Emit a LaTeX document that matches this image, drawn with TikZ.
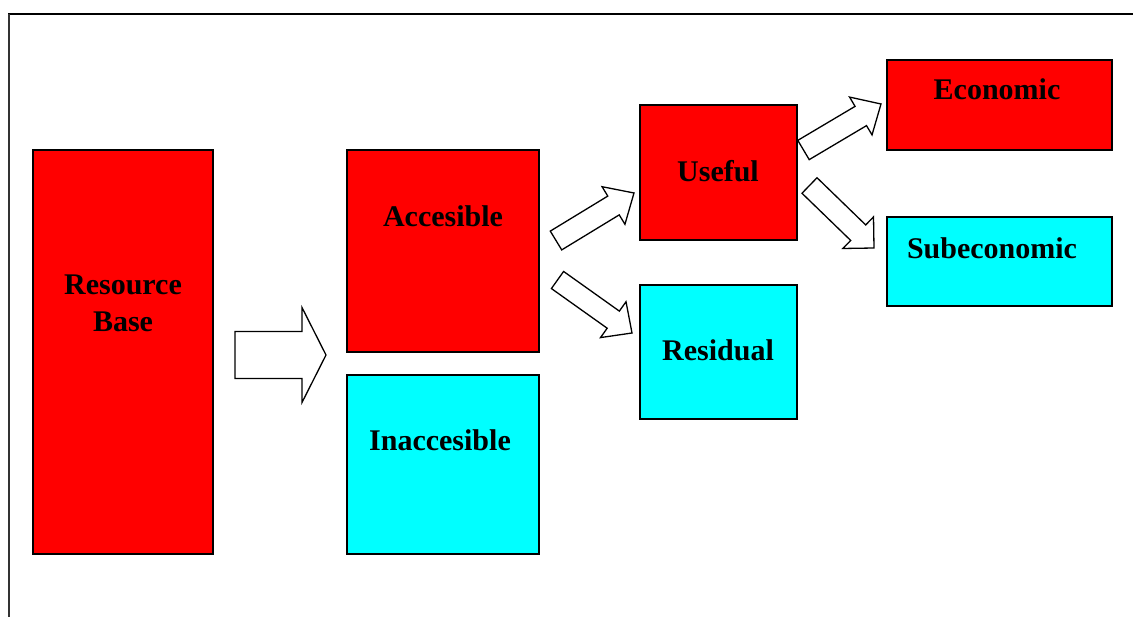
\documentclass[tikz,border=0pt]{standalone}
\usepackage{fontspec}
\setmainfont{Liberation Serif}
\usetikzlibrary{calc}

\definecolor{boxred}{RGB}{255,0,0}
\definecolor{boxcyan}{RGB}{0,255,255}

\tikzset{
  box/.style={draw=black, line width=1.5pt, rectangle, inner sep=0pt},
  redbox/.style={box, fill=boxred},
  cyanbox/.style={box, fill=boxcyan},
  lbl/.style={font=\bfseries\fontsize{30}{37}\selectfont, anchor=base, inner sep=0pt, align=center},
  barrow/.style={draw=black, fill=white, line width=1.3pt, line join=miter},
}

% block arrow: #1 tail centre, #2 tip, #3 half shaft width, #4 half head width, #5 head length (all in pt)
\newcommand{\blockarrow}[5]{%
  \coordinate (hb) at ($(#2)!#5pt!(#1)$);
  \draw[barrow]
    ($(#1)!#3pt!90:(#2)$) -- ($(hb)!#3pt!-90:(#1)$) -- ($(hb)!#4pt!-90:(#1)$) -- (#2)
    -- ($(hb)!#4pt!90:(#1)$) -- ($(hb)!#3pt!90:(#1)$) -- ($(#1)!#3pt!-90:(#2)$) -- cycle;
}

\begin{document}
\begin{tikzpicture}[x=1pt, y=-1pt]
  \useasboundingbox (0,0) rectangle (1133,617);

  % page frame
  \draw[line width=2.4pt] (8,14) -- (1133,14);
  \draw[line width=1.4pt, black!80] (9,14) -- (9,617);

  % boxes
  \node[redbox,  minimum width=180pt, minimum height=404pt] (base)   at (123,352) {};
  \node[redbox,  minimum width=192pt, minimum height=202pt] (acc)    at (443,251) {};
  \node[cyanbox, minimum width=192pt, minimum height=179pt] (inacc)  at (443,464.5) {};
  \node[redbox,  minimum width=157pt, minimum height=135pt] (useful) at (718.5,172.5) {};
  \node[cyanbox, minimum width=157pt, minimum height=134pt] (resid)  at (718.5,352) {};
  \node[redbox,  minimum width=225pt, minimum height=90pt]  (econ)   at (999.5,105) {};
  \node[cyanbox, minimum width=225pt, minimum height=89pt]  (subec)  at (999.5,261.5) {};

  % labels (base anchor of a two-line label is its last baseline)
  \node[lbl] (base-t)   at (123,331.5)  {Resource\\Base};
  \node[lbl] (acc-t)    at (443,226.5)  {Accesible};
  \node[lbl] (inacc-t)  at (440,450.5)  {Inaccesible};
  \node[lbl] (useful-t) at (718,181.5)  {Useful};
  \node[lbl] (resid-t)  at (718,360.5)  {Residual};
  \node[lbl] (econ-t)   at (997,99.5)   {Economic};
  \node[lbl] (subec-t)  at (992,258.5)  {Subeconomic};

  % arrow end points
  \coordinate (a1s) at (235,355);    \coordinate (a1e) at (326,355);
  \coordinate (a2s) at (556,240.5);  \coordinate (a2e) at (634,193);
  \coordinate (a3s) at (557.5,280);  \coordinate (a3e) at (632,333);
  \coordinate (a4s) at (803.5,150);  \coordinate (a4e) at (881,104);
  \coordinate (a5s) at (809.5,185.5);\coordinate (a5e) at (874,248);

  \blockarrow{a1s}{a1e}{23.5}{47.5}{24}
  \blockarrow{a2s}{a2e}{11}{22}{24}
  \blockarrow{a3s}{a3e}{10.5}{22}{23}
  \blockarrow{a4s}{a4e}{11.2}{22}{23.5}
  \blockarrow{a5s}{a5e}{10.8}{22}{22}
\end{tikzpicture}
\end{document}
